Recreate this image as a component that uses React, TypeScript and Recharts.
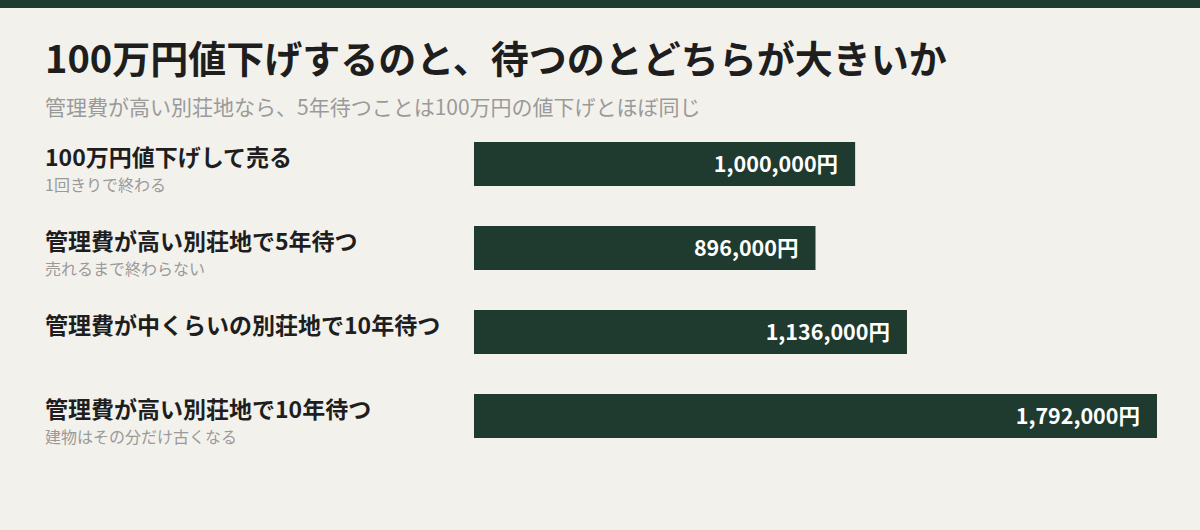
import React from 'react';
import { BarChart, Bar, XAxis, YAxis, LabelList } from 'recharts';

const categories = [
  '100万円値下げして売る',
  '管理費が高い別荘地で5年待つ',
  '管理費が中くらいの別荘地で10年待つ',
  '管理費が高い別荘地で10年待つ',
];
const notes = ['1回きりで終わる', '売れるまで終わらない', '', '建物はその分だけ古くなる'];
const costs = [1000000, 896000, 1136000, 1792000];

const data = categories.map((name, i) => ({ name, note: notes[i], cost: costs[i] }));

const FONT = '"Noto Sans CJK JP", "Noto Sans", sans-serif';
const GREEN = '#1f3a2e';
const BG = '#f3f1ec';

function CategoryTick({ y, payload, index }: any) {
  const note = notes[index ?? 0];
  return (
    <g>
      <text
        x={45}
        y={y - 8.5}
        dominantBaseline="central"
        textAnchor="start"
        fill="#1e1e1e"
        fontSize={23}
        fontWeight={700}
        fontFamily={FONT}
      >
        {payload.value}
      </text>
      {note ? (
        <text
          x={45}
          y={y + 20}
          dominantBaseline="central"
          textAnchor="start"
          fill="#9a9a9a"
          fontSize={16}
          fontFamily={FONT}
        >
          {note}
        </text>
      ) : null}
    </g>
  );
}

export default function App() {
  return (
    <div
      style={{
        position: 'absolute',
        top: 0,
        left: 0,
        width: 1200,
        height: 530,
        background: BG,
        fontFamily: FONT,
        overflow: 'hidden',
      }}
    >
      <div style={{ height: 8, background: GREEN }} />
      <div
        style={{
          position: 'absolute',
          left: 45,
          top: 37,
          fontSize: 38,
          lineHeight: '40px',
          fontWeight: 700,
          color: '#1e1e1e',
          whiteSpace: 'nowrap',
        }}
      >
        100万円値下げするのと、待つのとどちらが大きいか
      </div>
      <div
        style={{
          position: 'absolute',
          left: 45,
          top: 95,
          fontSize: 21,
          lineHeight: '23px',
          color: '#9a9a9a',
          whiteSpace: 'nowrap',
        }}
      >
        管理費が高い別荘地なら、5年待つことは100万円の値下げとほぼ同じ
      </div>
      <div style={{ position: 'absolute', left: 0, top: 0 }}>
        <BarChart
          width={1200}
          height={530}
          data={data}
          layout="vertical"
          margin={{ top: 122, right: 43, bottom: 72, left: 0 }}
        >
          <XAxis type="number" domain={[0, 1792000]} hide />
          <YAxis
            type="category"
            dataKey="name"
            width={474}
            axisLine={false}
            tickLine={false}
            tick={<CategoryTick />}
            interval={0}
          />
          <Bar dataKey="cost" fill={GREEN} barSize={44} isAnimationActive={false}>
            <LabelList
              dataKey="cost"
              position="insideRight"
              offset={17}
              fill="#ffffff"
              fontSize={21.5}
              fontWeight={700}
              fontFamily={FONT}
              formatter={(v: any) => `${Number(v).toLocaleString('en-US')}円`}
            />
          </Bar>
        </BarChart>
      </div>
    </div>
  );
}
